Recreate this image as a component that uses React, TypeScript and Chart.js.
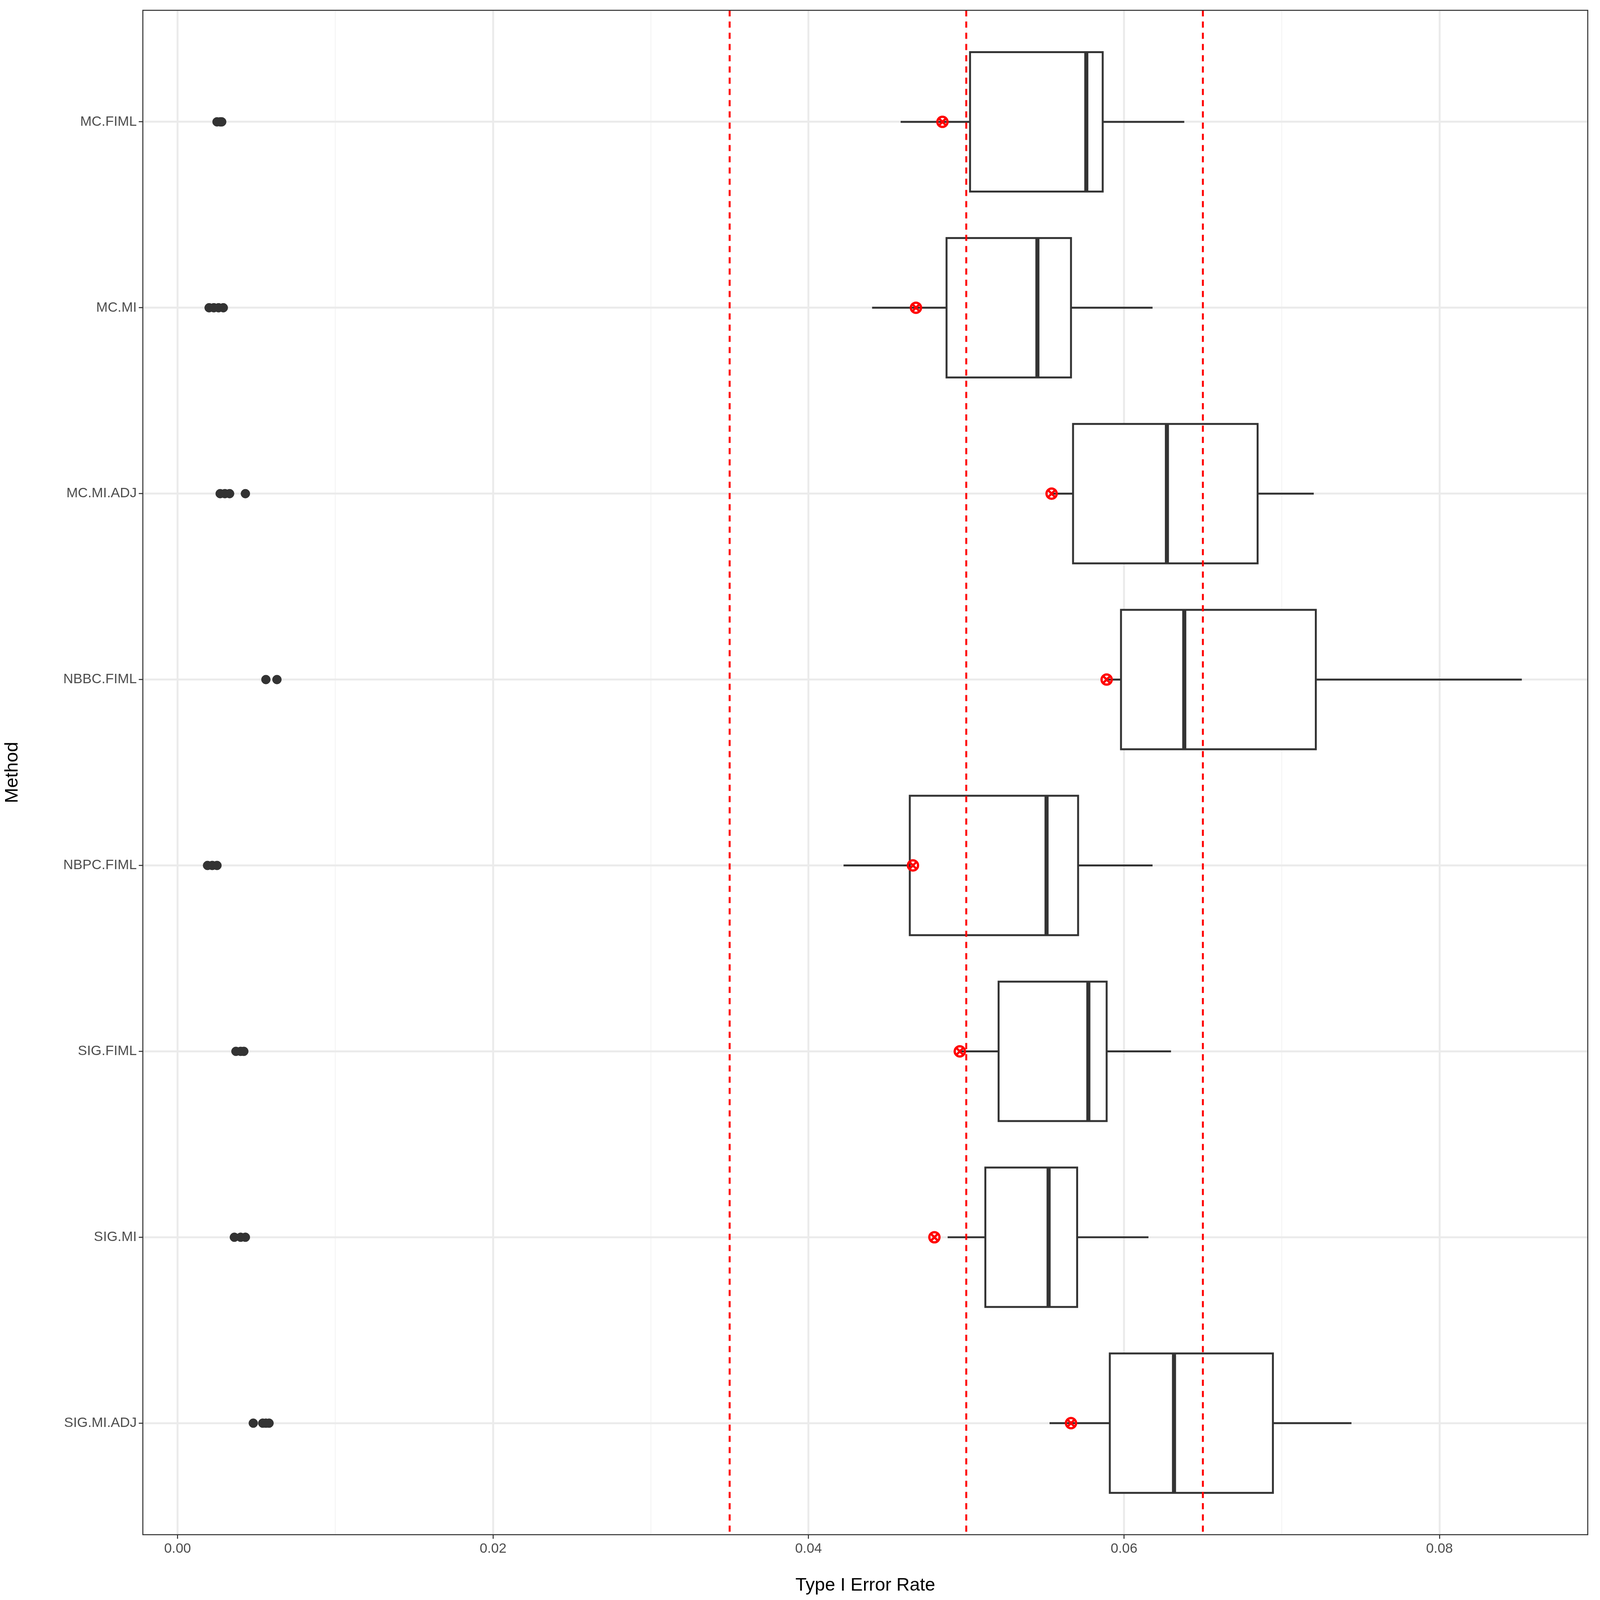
import { useEffect, useRef } from "react";
import { Chart, registerables } from "chart.js";

Chart.register(...registerables);

const methods = ["MC.FIML", "MC.MI", "MC.MI.ADJ", "NBBC.FIML", "NBPC.FIML", "SIG.FIML", "SIG.MI", "SIG.MI.ADJ"];
const whiskerLow = [0.04584, 0.04403, 0.05541, 0.0589, 0.04222, 0.04959, 0.04882, 0.05528];
const q1 = [0.05024, 0.04875, 0.05677, 0.05981, 0.04642, 0.05205, 0.05121, 0.0591];
const median = [0.05761, 0.05451, 0.06272, 0.06382, 0.05509, 0.05774, 0.05522, 0.06317];
const q3 = [0.05865, 0.05664, 0.06847, 0.07216, 0.05709, 0.0589, 0.05703, 0.06944];
const whiskerHigh = [0.06382, 0.06181, 0.07203, 0.08522, 0.06181, 0.06298, 0.06155, 0.07442];
const nominal = [0.04849, 0.04681, 0.05541, 0.0589, 0.04662, 0.04959, 0.04798, 0.05664];
const outliers = [
  [0.0025, 0.0027, 0.0028],
  [0.002, 0.0023, 0.0026, 0.0029],
  [0.0027, 0.003, 0.0033, 0.0043],
  [0.0056, 0.0063],
  [0.0019, 0.0022, 0.0025],
  [0.0037, 0.004, 0.0042],
  [0.0036, 0.004, 0.0043],
  [0.0048, 0.0054, 0.0056, 0.0058],
];
const refLines = [0.035, 0.05, 0.065];
const xTicks = [0, 0.01, 0.02, 0.03, 0.04, 0.05, 0.06, 0.07, 0.08];

const isMajor = (v: number) => Math.abs(Math.round(v * 100) % 2) === 0;

export default function App() {
  const canvasRef = useRef<HTMLCanvasElement>(null);

  useEffect(() => {
    document.body.style.margin = "0";
    const canvas = canvasRef.current;
    if (!canvas) return;
    // sizes below are measured on a 1568px-wide copy, scaled to the real width
    const k = window.innerWidth / 1568;

    const boxPlugin = {
      id: "boxes",
      beforeDatasetsDraw(chart: any) {
        const { ctx, chartArea, scales } = chart;
        const x = scales.x, y = scales.y;
        ctx.save();
        ctx.strokeStyle = "#333333";
        const half = Math.abs(y.getPixelForValue(1.375) - y.getPixelForValue(1));
        methods.forEach((_, i) => {
          const cy = y.getPixelForValue(i + 1);
          ctx.lineWidth = 1.9 * k;
          ctx.beginPath();
          ctx.moveTo(x.getPixelForValue(whiskerLow[i]), cy);
          ctx.lineTo(x.getPixelForValue(q1[i]), cy);
          ctx.moveTo(x.getPixelForValue(q3[i]), cy);
          ctx.lineTo(x.getPixelForValue(whiskerHigh[i]), cy);
          ctx.stroke();
          const x1 = x.getPixelForValue(q1[i]), x3 = x.getPixelForValue(q3[i]);
          ctx.fillStyle = "#ffffff";
          ctx.fillRect(x1, cy - half, x3 - x1, 2 * half);
          ctx.strokeRect(x1, cy - half, x3 - x1, 2 * half);
          ctx.lineWidth = 4 * k;
          ctx.beginPath();
          const xm = x.getPixelForValue(median[i]);
          ctx.moveTo(xm, cy - half);
          ctx.lineTo(xm, cy + half);
          ctx.stroke();
        });
        ctx.strokeStyle = "#ff0000";
        ctx.lineWidth = 1.9 * k;
        ctx.setLineDash([6 * k, 5 * k]);
        refLines.forEach((v) => {
          const px = x.getPixelForValue(v);
          ctx.beginPath();
          ctx.moveTo(px, chartArea.top);
          ctx.lineTo(px, chartArea.bottom);
          ctx.stroke();
        });
        ctx.restore();
      },
      afterDraw(chart: any) {
        const { ctx, chartArea } = chart;
        ctx.save();
        ctx.strokeStyle = "#333333";
        ctx.lineWidth = 1 * k;
        ctx.strokeRect(chartArea.left, chartArea.top, chartArea.right - chartArea.left, chartArea.bottom - chartArea.top);
        ctx.restore();
      },
    };

    const outlierPts = outliers.flatMap((list, i) => list.map((v) => ({ x: v, y: i + 1 })));
    const nominalPts = nominal.map((v, i) => ({ x: v, y: i + 1 }));
    const chart = new Chart(canvas, {
      type: "scatter",
      data: {
        datasets: [
          { data: outlierPts, backgroundColor: "#333333", borderColor: "#333333", pointRadius: 4.4 * k, pointHoverRadius: 4.4 * k },
          { data: nominalPts, backgroundColor: "transparent", borderColor: "#ff0000", borderWidth: 2.2 * k, pointRadius: 5 * k, pointStyle: "circle" },
          { data: nominalPts, backgroundColor: "transparent", borderColor: "#ff0000", borderWidth: 2.2 * k, pointRadius: 5 * k, pointStyle: "crossRot" },
        ],
      },
      options: {
        animation: false,
        responsive: true,
        maintainAspectRatio: false,
        layout: { padding: { top: 10 * k, right: 12 * k, left: 0, bottom: 2 * k } },
        plugins: { legend: { display: false }, tooltip: { enabled: false } },
        scales: {
          x: {
            type: "linear",
            min: -0.0022,
            max: 0.0894,
            afterBuildTicks: (s: any) => { s.ticks = xTicks.map((v) => ({ value: v })); },
            afterFit: (s: any) => { s.height = 62 * k; },
            border: { display: false },
            grid: {
              color: (c: any) => (isMajor(c.tick.value) ? "#EBEBEB" : "#F5F5F5"),
              lineWidth: (c: any) => (isMajor(c.tick.value) ? 1.9 * k : 1 * k),
              tickColor: (c: any) => (isMajor(c.tick.value) ? "#333333" : "transparent"),
              tickWidth: 1 * k,
              tickLength: 4 * k,
            },
            ticks: {
              color: "#4D4D4D",
              font: { family: "Liberation Sans", size: 13.5 * k },
              padding: 2 * k,
              maxRotation: 0,
              autoSkip: false,
              callback: (v: any) => (isMajor(Number(v)) ? Number(v).toFixed(2) : ""),
            },
            title: { display: true, text: "Type I Error Rate", color: "#000", font: { family: "Liberation Sans", size: 18 * k }, padding: { top: 3 * k } },
          },
          y: {
            type: "linear",
            reverse: true,
            min: 0.4,
            max: 8.6,
            afterBuildTicks: (s: any) => { s.ticks = methods.map((_, i) => ({ value: i + 1 })); },
            afterFit: (s: any) => { s.width = 140 * k; },
            border: { display: false },
            grid: { color: "#EBEBEB", lineWidth: 1.9 * k, tickColor: "#333333", tickWidth: 1 * k, tickLength: 4 * k },
            ticks: {
              color: "#4D4D4D",
              font: { family: "Liberation Sans", size: 13.5 * k },
              padding: 2 * k,
              autoSkip: false,
              callback: (v: any) => methods[Number(v) - 1] ?? "",
            },
            title: { display: true, text: "Method", color: "#000", font: { family: "Liberation Sans", size: 18 * k }, padding: { bottom: 2 * k } },
          },
        },
      },
      plugins: [boxPlugin],
    });
    return () => chart.destroy();
  }, []);

  return (
    <div style={{ width: "100vw", height: "100vh", background: "#fff", position: "relative" }}>
      <canvas ref={canvasRef} />
    </div>
  );
}
